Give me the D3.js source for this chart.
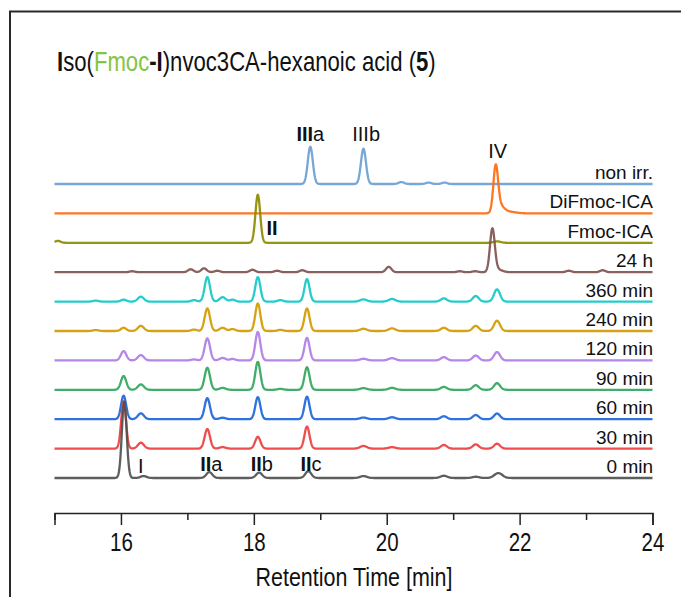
<!DOCTYPE html>
<html><head><meta charset="utf-8">
<script src="https://cdn.jsdelivr.net/npm/d3@7"></script>
<style>body{margin:0;background:#fff}svg{display:block}</style>
</head><body>
<script>
// ---- data ----
const traceNames = ["non irr.", "DiFmoc-ICA", "Fmoc-ICA", "24 h", "360 min", "240 min", "120 min", "90 min", "60 min", "30 min", "0 min"];
const traceColors = ["#6b9fd3", "#ff6a10", "#8c8c00", "#805250", "#14c8c8", "#d29a00", "#b07ce6", "#32a65e", "#1c66dc", "#ee3e3e", "#505050"];
// peaks: [retention time (min), height (mAU, arbitrary), width sigma (min)]
const peaksNonIrr = [[18.85, 38, 0.038], [19.65, 36, 0.038], [20.22, 2, 0.04], [20.63, 1.5, 0.04], [20.87, 1.5, 0.04]];
const peaksDiFmoc = [[21.64, 45, 0.035], [21.70, 7, 0.06], [21.80, 2, 0.12]];
const peaksFmoc = [[15.05, 2, 0.04], [18.06, 49, 0.036], [21.66, 1.5, 0.05]];
const peaks24h = [[16.17, 1, 0.04], [17.05, 3, 0.04], [17.25, 4, 0.04], [17.45, 1.5, 0.04], [17.98, 2.5, 0.04], [18.35, 1.5, 0.04], [18.73, 2, 0.04], [20.03, 5.5, 0.04], [21.10, 1, 0.04], [21.33, 1, 0.04], [21.59, 43, 0.036], [21.66, 3, 0.07], [22.74, 1.5, 0.04], [23.25, 2, 0.04]];
const peaks360 = [[15.62, 1, 0.04], [16.04, 2, 0.04], [16.30, 5, 0.045], [17.10, 1.5, 0.04], [17.30, 25, 0.04], [17.53, 4.5, 0.045], [17.68, 2, 0.04], [18.06, 25, 0.038], [18.40, 1.5, 0.04], [18.80, 23, 0.038], [19.65, 2.3, 0.05], [20.08, 2.7, 0.05], [20.86, 3.3, 0.045], [21.34, 5.7, 0.045], [21.66, 12.5, 0.045]];
const peaks240 = [[15.62, 1, 0.04], [16.04, 3.3, 0.04], [16.30, 5.3, 0.045], [17.10, 1.5, 0.04], [17.30, 23, 0.04], [17.53, 3.3, 0.045], [17.68, 2, 0.04], [18.06, 28, 0.038], [18.40, 1.2, 0.04], [18.80, 23, 0.038], [19.65, 2.3, 0.05], [20.08, 2.7, 0.05], [20.86, 3.3, 0.045], [21.34, 5.3, 0.045], [21.66, 10.5, 0.045]];
const peaks120 = [[16.04, 9.5, 0.04], [16.30, 5.4, 0.045], [17.10, 1, 0.04], [17.30, 22.5, 0.04], [17.53, 2.5, 0.045], [17.68, 1.5, 0.04], [18.06, 29, 0.038], [18.80, 23, 0.038], [19.65, 1.7, 0.05], [20.08, 2.3, 0.05], [20.86, 3.3, 0.045], [21.34, 5, 0.045], [21.66, 8.5, 0.045]];
const peaks90 = [[16.04, 14, 0.04], [16.30, 5.5, 0.045], [17.30, 22.5, 0.04], [17.53, 2, 0.045], [18.06, 28.5, 0.038], [18.40, 1, 0.04], [18.80, 23, 0.038], [19.65, 1.7, 0.05], [20.08, 2, 0.05], [20.86, 3, 0.045], [21.34, 4.7, 0.045], [21.66, 6.8, 0.045]];
const peaks60 = [[16.04, 24, 0.038], [16.30, 6, 0.045], [17.30, 21.5, 0.04], [17.53, 1.5, 0.045], [18.06, 22.5, 0.038], [18.80, 23, 0.038], [19.65, 1.7, 0.05], [20.08, 2, 0.05], [20.86, 3, 0.045], [21.34, 4.3, 0.045], [21.66, 5.8, 0.045]];
const peaks30 = [[16.04, 48, 0.036], [16.30, 6, 0.045], [17.30, 20, 0.04], [17.53, 1.5, 0.045], [18.06, 12, 0.04], [18.80, 22.5, 0.038], [19.65, 2.7, 0.05], [20.08, 1.5, 0.05], [20.86, 3.7, 0.045], [21.34, 4.3, 0.045], [21.66, 5, 0.045]];
const peaks0 = [[16.05, 78, 0.036], [16.34, 2, 0.045], [17.33, 6, 0.045], [18.08, 5.5, 0.045], [18.82, 7, 0.045], [19.65, 2, 0.05], [20.86, 2.3, 0.05], [21.34, 1.3, 0.05], [21.68, 5, 0.06]];
const tracePeaks = [peaksNonIrr, peaksDiFmoc, peaksFmoc, peaks24h, peaks360, peaks240, peaks120, peaks90, peaks60, peaks30, peaks0];
const traceSpacing = 30; // offset between stacked traces (mAU)
const xDomain = [15, 24];
const xTickValues = [15, 16, 17, 18, 19, 20, 21, 22, 23, 24];
const xTickLabels = {16: "16", 18: "18", 20: "20", 22: "22", 24: "24"};
// peak annotations: [bold part, regular part, time, trace index, height above baseline, anchor]
const annotations = [
  ["III", "a", 18.85, 0, 44, "middle"],
  ["", "IIIb", 19.69, 0, 44, "middle"],
  ["", "IV", 21.67, 1, 57, "middle"],
  ["II", "", 18.19, 2, 8, "start"],
  ["", "I", 16.30, 10, 5.4, "middle"],
  ["II", "a", 17.36, 10, 7.5, "middle"],
  ["II", "b", 18.12, 10, 7.5, "middle"],
  ["II", "c", 18.86, 10, 7.5, "middle"]
];

// ---- drawing ----
const W = 681, H = 597;
const svg = d3.select("body").append("svg").attr("width", W).attr("height", H);
const x = d3.scaleLinear().domain(xDomain).range([54.5, 652.5]);
const nT = traceNames.length;
const y = d3.scaleLinear().domain([0, (nT - 1) * traceSpacing]).range([478, 184]);
const FONT = "Liberation Sans, Arial, sans-serif";

// frame
svg.append("path").attr("d", "M10,597 L10,11.5 L681,11.5")
  .attr("fill", "none").attr("stroke", "#2a2a2a").attr("stroke-width", 2);

// title
const title = svg.append("g").attr("transform", "translate(57,71) scale(0.82,1)")
  .append("text").attr("font-family", FONT).attr("font-size", 27).attr("fill", "#111");
title.append("tspan").attr("font-weight", "bold").text("I");
title.append("tspan").text("so(");
title.append("tspan").attr("fill", "#86c440").text("Fmoc");
title.append("tspan").attr("font-weight", "bold").text("-I");
title.append("tspan").text(")nvoc3CA-hexanoic acid (");
title.append("tspan").attr("font-weight", "bold").text("5");
title.append("tspan").text(")");

// traces
const grid = d3.range(xDomain[0], xDomain[1] + 0.0001, 0.005);
const line = d3.line().x(d => x(d[0])).y(d => y(d[1]));
tracePeaks.forEach((pk, i) => {
  const off = (nT - 1 - i) * traceSpacing;
  const pts = grid.map(t => {
    let s = 0;
    pk.forEach(([t0, h, w]) => { const z = (t - t0) / w; s += h * Math.exp(-0.5 * z * z); });
    return [t, off + s];
  });
  svg.append("path").datum(pts).attr("d", line)
    .attr("fill", "none").attr("stroke", traceColors[i]).attr("stroke-width", 2.3)
    .attr("stroke-linejoin", "round").attr("stroke-opacity", 0.92);
});

// trace labels
traceNames.forEach((name, i) => {
  const off = (nT - 1 - i) * traceSpacing;
  svg.append("text").attr("x", 653).attr("y", y(off) - 5)
    .attr("text-anchor", "end").attr("font-family", FONT)
    .attr("font-size", 19).attr("fill", "#111").text(name);
});

// peak annotations
annotations.forEach(([b, r, t, ti, hgt, anchor]) => {
  const off = (nT - 1 - ti) * traceSpacing;
  const tx = svg.append("text").attr("x", x(t)).attr("y", y(off + hgt))
    .attr("text-anchor", anchor).attr("font-family", FONT)
    .attr("font-size", 20).attr("fill", "#111");
  if (b) tx.append("tspan").attr("font-weight", "bold").text(b);
  if (r) tx.append("tspan").text(r);
});

// x axis
const ax = svg.append("g").attr("transform", "translate(0,513)")
  .call(d3.axisBottom(x).tickValues(xTickValues).tickSizeOuter(0)
    .tickSize(12).tickFormat(d => xTickLabels[d] || ""));
ax.select(".domain").attr("stroke", "#222").attr("stroke-width", 1.5);
ax.selectAll(".tick line").attr("stroke", "#222").attr("stroke-width", 1.5)
  .attr("y2", d => xTickLabels[d] ? 12 : 7);
ax.selectAll(".tick text").attr("font-family", FONT)
  .attr("font-size", 25).attr("fill", "#111").attr("y", 20).attr("dy", "0.71em")
  .attr("transform", "scale(0.82,1)");

svg.append("g").attr("transform", "translate(354,586) scale(0.86,1)")
  .append("text").attr("text-anchor", "middle").attr("font-family", FONT)
  .attr("font-size", 25).attr("fill", "#111").text("Retention Time [min]");
</script>
</body></html>
